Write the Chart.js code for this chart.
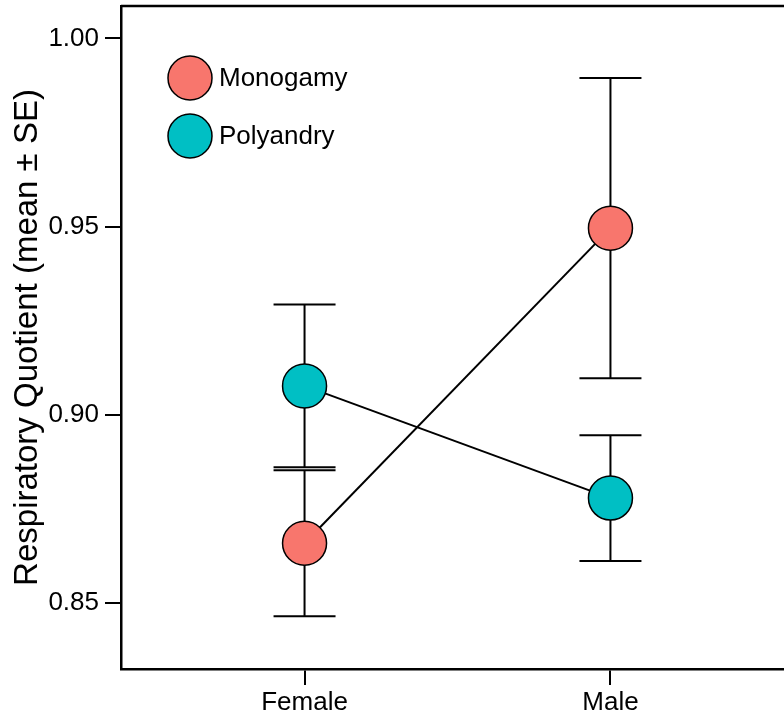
<!DOCTYPE html>
<html>
<head>
<meta charset="utf-8">
<script src="https://cdn.jsdelivr.net/npm/chart.js@4.4.1/dist/chart.umd.min.js"></script>
<style>
  html, body { margin: 0; padding: 0; background: #fff; overflow: hidden; }
  #rqChart { position: absolute; left: 0; top: 0; }
</style>
</head>
<body>
<canvas id="rqChart" width="800" height="715"></canvas>
<script>
// Respiratory quotient by sex and mating system
const categories = ['Female', 'Male'];
const categoryPos = [1, 2];
const monogamyMean = [0.8659, 0.9496];
const monogamySE = [0.0194, 0.0399];
const polyandryMean = [0.9077, 0.8779];
const polyandrySE = [0.0216, 0.0167];
const yTicks = [0.85, 0.90, 0.95, 1.00];

const series = [
    { label: 'Monogamy', mean: monogamyMean, se: monogamySE, color: '#F8766D' },
    { label: 'Polyandry', mean: polyandryMean, se: polyandrySE, color: '#00BFC4' }
];

const FONT = '"Liberation Sans", Arial, Helvetica, sans-serif';

// error bars drawn under the points
const errorBars = {
    id: 'errorBars',
    beforeDatasetsDraw(chart) {
        const { ctx, scales: { x, y } } = chart;
        const cap = 31;
        ctx.save();
        ctx.strokeStyle = '#000';
        ctx.lineWidth = 2;
        chart.data.datasets.forEach(ds => {
            ds.data.forEach(p => {
                const px = x.getPixelForValue(p.x);
                const top = y.getPixelForValue(p.y + p.se);
                const bot = y.getPixelForValue(p.y - p.se);
                ctx.beginPath();
                ctx.moveTo(px, top); ctx.lineTo(px, bot);
                ctx.moveTo(px - cap, top); ctx.lineTo(px + cap, top);
                ctx.moveTo(px - cap, bot); ctx.lineTo(px + cap, bot);
                ctx.stroke();
            });
        });
        ctx.restore();
    }
};

// top and right edges of the panel box, plus the legend in the corner
const panel = {
    id: 'panel',
    afterDraw(chart) {
        const { ctx, chartArea: a } = chart;
        ctx.save();
        ctx.strokeStyle = '#000';
        ctx.lineWidth = 2.5;
        ctx.beginPath();
        ctx.moveTo(a.left, a.top);
        ctx.lineTo(a.right, a.top);
        ctx.lineTo(a.right, a.bottom);
        ctx.stroke();

        ctx.font = '26px ' + FONT;
        ctx.textBaseline = 'middle';
        series.forEach((s, i) => {
            const cx = a.left + 69;
            const cy = a.top + 72 + i * 58;
            ctx.beginPath();
            ctx.arc(cx, cy, 22, 0, Math.PI * 2);
            ctx.fillStyle = s.color;
            ctx.fill();
            ctx.lineWidth = 1.5;
            ctx.stroke();
            ctx.fillStyle = '#000';
            ctx.fillText(s.label, cx + 29, cy + 1);
        });
        ctx.restore();
    }
};

new Chart(document.getElementById('rqChart'), {
    type: 'line',
    data: {
        datasets: series.map(s => ({
            label: s.label,
            data: categoryPos.map((c, i) => ({ x: c, y: s.mean[i], se: s.se[i] })),
            borderColor: '#000',
            borderWidth: 2,
            pointRadius: 22,
            pointHoverRadius: 22,
            pointBackgroundColor: s.color,
            pointBorderColor: '#000',
            pointBorderWidth: 1.5,
            fill: false
        }))
    },
    options: {
        responsive: false,
        animation: false,
        events: [],
        layout: { autoPadding: false, padding: { top: 6, right: 6, left: 0, bottom: 0 } },
        plugins: {
            legend: { display: false },
            tooltip: { enabled: false }
        },
        scales: {
            x: {
                type: 'linear',
                min: 0.4,
                max: 2.6,
                afterBuildTicks: axis => { axis.ticks = categoryPos.map(v => ({ value: v })); },
                afterFit: axis => {
                    axis.height = 46;
                    axis.paddingLeft = 0;
                    axis.paddingRight = 0;
                },
                grid: { drawOnChartArea: false, drawTicks: true, tickLength: 16, color: '#000', lineWidth: 2 },
                border: { color: '#000', width: 2.5 },
                ticks: {
                    padding: 2,
                    color: '#000',
                    font: { family: FONT, size: 26 },
                    callback: v => categories[categoryPos.indexOf(v)] || ''
                }
            },
            y: {
                min: 0.8325,
                max: 1.0086,
                afterBuildTicks: axis => { axis.ticks = yTicks.map(v => ({ value: v })); },
                afterFit: axis => {
                    axis.width = 121;
                    axis.paddingTop = 0;
                    axis.paddingBottom = 0;
                },
                grid: { drawOnChartArea: false, drawTicks: true, tickLength: 16, color: '#000', lineWidth: 2 },
                border: { color: '#000', width: 2.5 },
                ticks: {
                    padding: 6,
                    color: '#000',
                    font: { family: FONT, size: 26 },
                    callback: v => v.toFixed(2)
                },
                title: {
                    display: true,
                    text: 'Respiratory Quotient (mean ± SE)',
                    color: '#000',
                    font: { family: FONT, size: 33 },
                    padding: { top: 8, bottom: 0 }
                }
            }
        }
    },
    plugins: [errorBars, panel]
});
</script>
</body>
</html>
